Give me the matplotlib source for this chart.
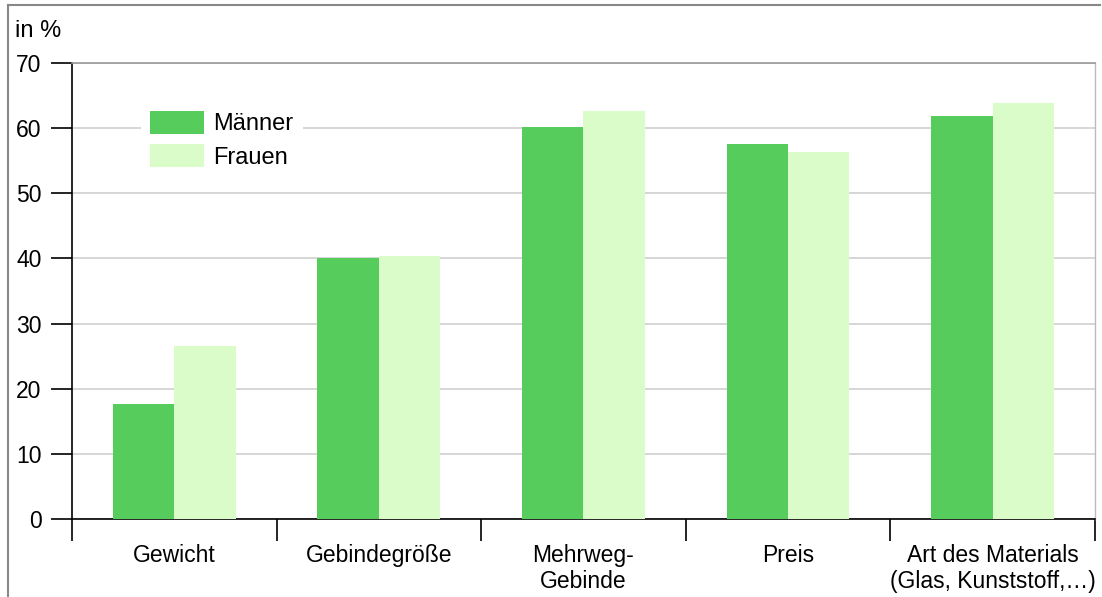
import matplotlib.pyplot as plt
import numpy as np
from matplotlib.lines import Line2D
from matplotlib.patches import Patch

plt.rcParams['font.family'] = ['Liberation Sans', 'DejaVu Sans']

# Daten
kategorien = ['Gewicht', 'Gebindegröße', 'Mehrweg-\nGebinde', 'Preis',
              'Art des Materials\n(Glas, Kunststoff,…)']
maenner = [17.7, 40.0, 60.1, 57.6, 61.8]
frauen = [26.6, 40.3, 62.7, 56.4, 63.9]
y_ticks = [0, 10, 20, 30, 40, 50, 60, 70]

farbe_m = '#55cc5c'
farbe_f = '#dafcc8'

fig = plt.figure(figsize=(11.02, 5.97), dpi=100)
ax = fig.add_axes([0.0653, 0.1307, 0.9283, 0.7638])

x = np.arange(len(kategorien))
breite = 0.3
ax.bar(x - breite / 2, maenner, breite, color=farbe_m, zorder=3)
ax.bar(x + breite / 2, frauen, breite, color=farbe_f, zorder=3)

ax.set_xlim(-0.5, len(kategorien) - 0.5)
ax.set_ylim(0, 70)
ax.set_yticks(y_ticks)
ax.set_yticklabels([str(t) for t in y_ticks], fontsize=16.5)

# Gitter
ax.grid(axis='y', color='#d0d0d0', linewidth=1.2, zorder=0)
ax.set_axisbelow(True)

# Kategorie-Ticks an den Grenzen, Beschriftung in der Mitte
ax.set_xticks(np.arange(len(kategorien) + 1) - 0.5)
ax.set_xticklabels([])
ax.set_xticks(x, minor=True)
ax.set_xticklabels(kategorien, minor=True, fontsize=16.5, linespacing=1.15)
ax.tick_params(axis='x', which='minor', length=0, pad=18)
ax.tick_params(axis='x', which='major', length=16, width=1.2, direction='out')
ax.tick_params(axis='y', length=15, width=1.2, direction='out', pad=7)

for s in ['left', 'bottom']:
    ax.spines[s].set_color('black')
    ax.spines[s].set_linewidth(1.2)
ax.spines['top'].set_color('#999999')
ax.spines['top'].set_linewidth(1.2)
ax.spines['right'].set_color('#bbbbbb')
ax.spines['right'].set_linewidth(1.0)

# Legende
griffe = [Patch(facecolor=farbe_m, label='Männer'),
          Patch(facecolor=farbe_f, label='Frauen')]
leg = ax.legend(handles=griffe, loc='upper left', bbox_to_anchor=(0.056, 0.942),
                frameon=True, fontsize=17, handlelength=2.25, handleheight=1.12,
                handletextpad=0.42, labelspacing=0.38, borderpad=0.4)
leg.get_frame().set_edgecolor('none')
leg.get_frame().set_facecolor('white')
leg.get_frame().set_alpha(1)
leg.set_zorder(5)

fig.text(0.014, 0.948, 'in %', fontsize=17, va='center', ha='left')

# Rahmen der Grafik
fig.add_artist(Line2D([0.0073, 0.0073], [0.0, 0.991], transform=fig.transFigure,
                      color='#888888', linewidth=1.5))
fig.add_artist(Line2D([0.0073, 0.998], [0.991, 0.991], transform=fig.transFigure,
                      color='#888888', linewidth=1.5))

fig.savefig('out.png', dpi=100)
